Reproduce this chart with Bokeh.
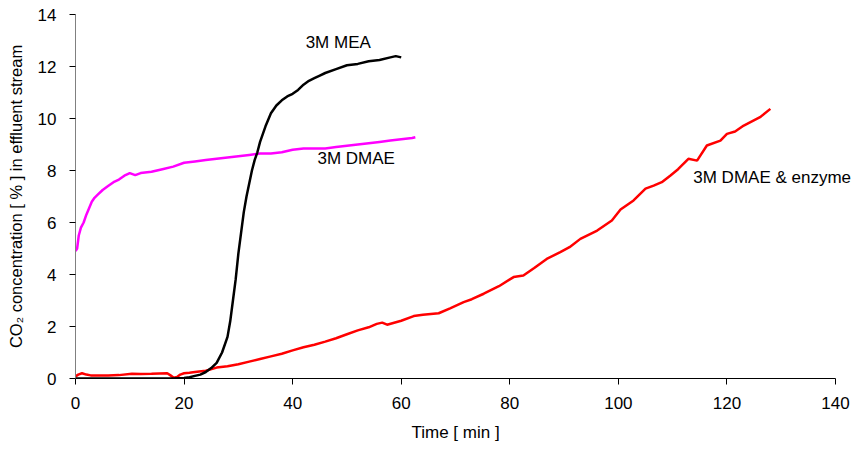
from bokeh.plotting import figure
from bokeh.models import Range1d, FixedTicker, Label, Title
from bokeh.embed import file_html
from bokeh.resources import INLINE

# 3M DMAE (magenta)
dmae_t = [0, 0.3, 0.6, 1, 1.5, 2, 2.5, 3, 3.5, 4, 5, 6, 7, 8, 9, 10, 11, 12, 14, 16, 18, 20, 22, 24, 26, 28,
          30, 32, 34, 36, 38, 40, 42, 44, 46, 48, 50, 52, 54, 56, 58, 60, 62, 62.6]
dmae_y = [4.9, 5.0, 5.5, 5.8, 6.0, 6.3, 6.55, 6.8, 6.95, 7.05, 7.25, 7.4, 7.55, 7.65, 7.8, 7.9, 7.82, 7.9, 7.95, 8.05,
          8.15, 8.3, 8.35, 8.4, 8.45, 8.5, 8.55, 8.6, 8.65, 8.65, 8.7, 8.8, 8.85, 8.85, 8.85, 8.9, 8.95, 9.0,
          9.05, 9.1, 9.15, 9.2, 9.25, 9.28]

# 3M MEA (black)
mea_t = [0, 5, 10, 15, 18, 20, 21, 22, 23, 24, 25, 26, 27, 28, 28.5, 29, 29.5, 30, 30.5, 31, 31.5, 32, 32.5,
         33, 33.5, 34, 35, 36, 37, 38, 39, 40, 41, 42, 43, 44, 45, 46, 48, 50, 52, 54, 56, 58, 59, 60]
mea_y = [0, 0, 0, 0, 0, 0.02, 0.05, 0.1, 0.15, 0.25, 0.4, 0.6, 1.0, 1.6, 2.2, 3.0, 3.8, 4.8, 5.6, 6.4, 7.0,
         7.5, 8.0, 8.4, 8.7, 9.1, 9.7, 10.2, 10.5, 10.7, 10.85, 10.95, 11.1, 11.3, 11.45, 11.55, 11.65, 11.75,
         11.9, 12.05, 12.1, 12.2, 12.25, 12.35, 12.4, 12.35]

# 3M DMAE & enzyme (red)
enz_t = [0, 0.5, 1.2, 2, 2.8, 4, 6, 8, 10.4, 12, 14, 16.9, 17.5, 18.1, 18.7, 19.3, 20, 21, 22, 24, 26, 28, 30,
         32, 34, 36, 38, 40, 42, 44, 46, 48, 50, 52, 54, 55.5, 56.5, 57.4, 60, 62.3, 64, 66.9, 69, 71.5, 73, 75.2,
         78, 80.7, 82.5, 84.5, 86.8, 89.3, 91, 93, 96.1, 98.8, 100.4, 102.8, 105, 106.5, 108, 109.6, 111,
         112.9, 114.5, 116.3, 118.8, 120, 121.5, 123.1, 126.1, 128]
enz_y = [0.08, 0.15, 0.2, 0.15, 0.12, 0.12, 0.12, 0.13, 0.18, 0.17, 0.18, 0.2, 0.12, 0.03, 0.06, 0.15, 0.2,
         0.22, 0.25, 0.3, 0.42, 0.47, 0.55, 0.65, 0.75, 0.85, 0.95, 1.08, 1.2, 1.3, 1.42, 1.55, 1.7, 1.85, 1.97,
         2.1, 2.15, 2.07, 2.22, 2.4, 2.45, 2.51, 2.7, 2.94, 3.05, 3.26, 3.55, 3.9, 3.96, 4.25, 4.6, 4.86, 5.05,
         5.37, 5.69, 6.08, 6.5, 6.85, 7.3, 7.42, 7.55, 7.81, 8.05, 8.45, 8.38, 8.96, 9.15, 9.41, 9.5, 9.73,
         10.05, 10.37]

x_ticks = [0, 20, 40, 60, 80, 100, 120, 140]
y_ticks = [0, 2, 4, 6, 8, 10, 12, 14]
x_axis_end = 140

series_labels = ["3M MEA", "3M DMAE", "3M DMAE & enzyme"]
label_x = [48.4, 51.7, 113.8]
label_y = [12.92, 8.46, 7.74]
label_align = ["center", "center", "left"]

FONT = "Liberation Sans"

# frame extends a little past the last tick so the right-hand label is not clipped;
# the x axis line itself stops at 140 via bounds
p = figure(width=858, height=451, output_backend="svg", toolbar_location=None,
           x_range=Range1d(0, 144.05), y_range=Range1d(0, 14),
           min_border_left=75, min_border_right=1, min_border_top=14, min_border_bottom=73)
p.outline_line_color = None
p.xgrid.visible = False
p.ygrid.visible = False
p.background_fill_color = "white"
p.border_fill_color = "white"

for ax, ticks in ((p.xaxis, x_ticks), (p.yaxis, y_ticks)):
    ax.ticker = FixedTicker(ticks=ticks)
    ax.minor_tick_line_color = None
    ax.major_tick_in = 0
    ax.major_tick_out = 6
    ax.major_label_text_font = FONT
    ax.major_label_text_font_size = "17px"
    ax.major_label_text_color = "black"
    ax.axis_label_text_font = FONT
    ax.axis_label_text_font_style = "normal"
    ax.axis_label_text_color = "black"
    ax.major_tick_line_color = "black"

p.xaxis.bounds = (0, x_axis_end)
p.yaxis.axis_label_text_font_size = "16.5px"
p.xaxis.axis_line_color = "black"
p.yaxis.axis_line_color = "#808080"
p.yaxis.axis_label = "CO\u2082 concentration [ % ] in effluent stream"
p.xaxis.major_label_standoff = 12
p.yaxis.major_label_standoff = 13
p.yaxis.axis_label_standoff = 10

# x-axis title, centred under the 0..140 span (frame is slightly wider)
p.add_layout(Title(text="Time [ min ]", align="left", offset=336, standoff=19,
                   text_font=FONT, text_font_size="17px", text_font_style="normal",
                   text_color="black"), "below")

p.line(enz_t, enz_y, line_color="#FF0000", line_width=2.5)
p.line(dmae_t, dmae_y, line_color="#FF00FF", line_width=2.5)
p.line(mea_t, mea_y, line_color="black", line_width=2.5)

for lx, ly, txt, al in zip(label_x, label_y, series_labels, label_align):
    p.add_layout(Label(x=lx, y=ly, text=txt, text_font=FONT, text_font_size="17px",
                       text_align=al, text_baseline="middle", text_color="black"))

open("out.html", "w").write(file_html(p, INLINE))
